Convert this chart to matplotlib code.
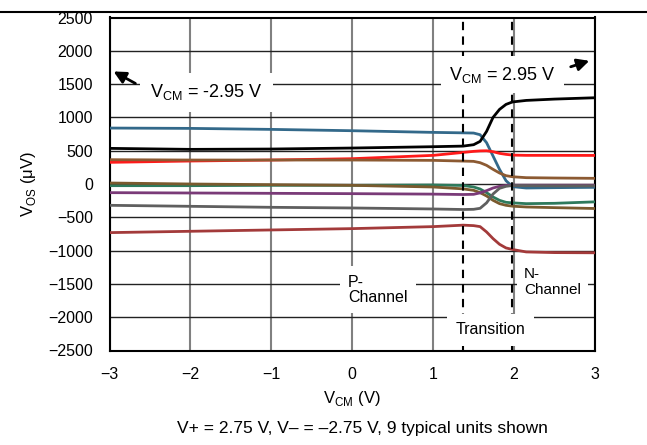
import numpy as np
import matplotlib.pyplot as plt

plt.rcParams['font.family'] = ['Liberation Sans', 'DejaVu Sans']

# common-mode voltage sample points (V)
vcm = [-3, -2, -1, 0, 1, 1.37, 1.5, 1.58, 1.66, 1.74, 1.82, 1.9, 1.98, 2.15, 2.5, 3]

# offset voltage per unit (uV)
unit_blue = [840, 835, 820, 800, 775, 768, 765, 740, 620, 420, 220, 50, -40, -60, -55, -50]
unit_black = [535, 520, 525, 540, 560, 569, 590, 640, 790, 1000, 1120, 1195, 1232, 1255, 1275, 1295]
unit_red = [325, 345, 360, 380, 430, 474, 490, 497, 499, 485, 460, 445, 434, 430, 430, 429]
unit_tan = [365, 360, 360, 360, 355, 344, 340, 320, 280, 220, 165, 125, 109, 95, 90, 85]
unit_green = [-25, -25, -20, -20, -15, -22, -45, -75, -130, -195, -245, -275, -283, -295, -290, -268]
unit_brown = [15, 0, -10, -20, -45, -73, -95, -130, -180, -245, -295, -320, -333, -345, -355, -368]
unit_purple = [-130, -135, -140, -145, -152, -158, -155, -133, -100, -60, -35, -22, -18, -18, -18, -18]
unit_gray = [-320, -335, -350, -360, -375, -383, -380, -365, -283, -150, -65, -35, -23, -25, -28, -28]
unit_darkred = [-730, -710, -690, -670, -640, -618, -625, -640, -720, -820, -905, -960, -983, -1020, -1030, -1033]

units = [
    (unit_blue, '#33698a'),
    (unit_black, '#000000'),
    (unit_red, '#ff1a1a'),
    (unit_tan, '#8c5a32'),
    (unit_green, '#2e7a5c'),
    (unit_brown, '#7a5a2e'),
    (unit_purple, '#7a3a78'),
    (unit_gray, '#5f5f5f'),
    (unit_darkred, '#a33a3a'),
]

trans_lo, trans_hi = 1.37, 1.98

fig = plt.figure(figsize=(6.47, 4.45), dpi=100)
ax = fig.add_axes([109.5 / 647, 1 - 350.5 / 445, 485.5 / 647, 333 / 445])

for y, c in units:
    ax.plot(vcm, y, color=c, lw=2, zorder=3, solid_joinstyle='round')

ax.axvline(trans_lo, color='black', ls=(0, (4, 3)), lw=1.5, zorder=4)
ax.axvline(trans_hi, color='black', ls=(0, (4, 3)), lw=1.5, zorder=4)

ax.set_xlim(-3, 3)
ax.set_ylim(-2500, 2500)
ax.set_xticks(np.arange(-3, 4, 1))
ax.set_yticks(np.arange(-2500, 2501, 500))
ax.xaxis.grid(True, color='#808080', lw=1.5)
ax.yaxis.grid(True, color='#222222', lw=1.0)
ax.set_axisbelow(True)
ax.tick_params(length=0, labelsize=11.5, pad=12)
for s in ax.spines.values():
    s.set_linewidth(1.5)

ax.set_xlabel('V$_{\\mathregular{CM}}$ (V)', fontsize=12, labelpad=5)
ax.set_ylabel('V$_{\\mathregular{OS}}$ (\u03bcV)', fontsize=12, labelpad=7)

ax.text(-1.80, 1300, 'V$_{\\mathregular{CM}}$ = -2.95 V', fontsize=13,
        ha='center', va='baseline', zorder=5,
        bbox=dict(facecolor='white', edgecolor='none', pad=7))
ax.text(1.86, 1565, 'V$_{\\mathregular{CM}}$ = 2.95 V', fontsize=13,
        ha='center', va='baseline', zorder=5,
        bbox=dict(facecolor='white', edgecolor='none', pad=6))
ax.annotate('', xy=(-2.95, 1690), xytext=(-2.68, 1510),
            arrowprops=dict(arrowstyle='-|>', color='black', lw=2,
                            mutation_scale=18, shrinkA=0, shrinkB=0), zorder=6)
ax.annotate('', xy=(2.93, 1850), xytext=(2.70, 1760),
            arrowprops=dict(arrowstyle='-|>', color='black', lw=2,
                            mutation_scale=18, shrinkA=0, shrinkB=0), zorder=6)

ax.text(-0.05, -1590, 'P-\nChannel', fontsize=11.5, ha='left', va='center',
        linespacing=1.05, zorder=5,
        bbox=dict(facecolor='white', edgecolor='none', pad=6))
ax.text(2.12, -1468, 'N-\nChannel', fontsize=11, ha='left', va='center',
        linespacing=1.15, zorder=5,
        bbox=dict(facecolor='white', edgecolor='none', pad=5))
ax.text(1.71, -2190, 'Transition', fontsize=11.5, ha='center', va='center',
        zorder=5, bbox=dict(facecolor='white', edgecolor='none', pad=6))

fig.add_artist(plt.Line2D([0, 1], [1 - 12 / 445, 1 - 12 / 445], color='black', lw=1.5))
fig.text(0.56, 1 - 429 / 445, 'V+ = 2.75 V, V\u2013 = \u20132.75 V, 9 typical units shown',
         fontsize=12.5, ha='center', va='center')

fig.savefig('out.png', dpi=100)
